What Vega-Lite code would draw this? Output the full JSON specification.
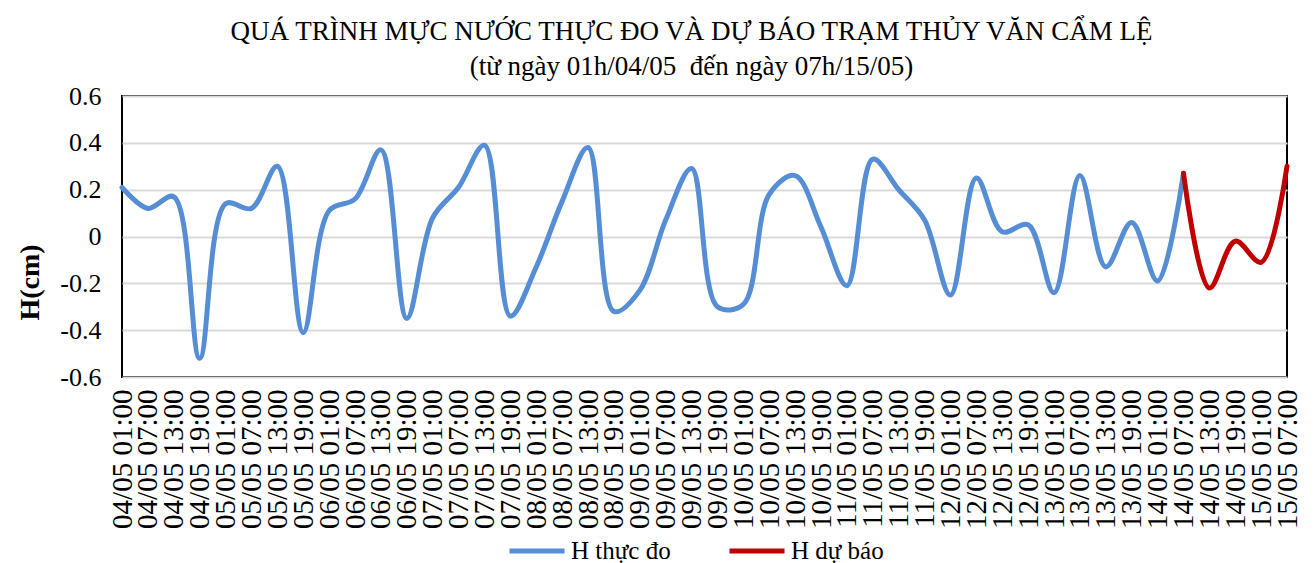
{
  "$schema": "https://vega.github.io/schema/vega-lite/v6.json",
  "width": 1165,
  "height": 281,
  "autosize": {"type": "none"},
  "padding": {"left": 122, "top": 96, "right": 28, "bottom": 186},
  "background": "white",
  "title": {
    "text": "QUÁ TRÌNH MỰC NƯỚC THỰC ĐO VÀ DỰ BÁO TRẠM THỦY VĂN CẨM LỆ",
    "subtitle": "(từ ngày 01h/04/05\u00a0 đến ngày 07h/15/05)",
    "font": "Liberation Serif",
    "subtitleFont": "Liberation Serif",
    "fontSize": 27,
    "subtitleFontSize": 27,
    "fontWeight": "normal",
    "color": "black",
    "subtitleColor": "black",
    "anchor": "middle",
    "dx": -13,
    "offset": 2,
    "subtitlePadding": 8
  },
  "data": {
    "values": [
      {"t": "04/05 01:00", "h": 0.21, "s": "H thực đo"},
      {"t": "04/05 07:00", "h": 0.12, "s": "H thực đo"},
      {"t": "04/05 13:00", "h": 0.17, "s": "H thực đo"},
      {"t": "04/05 19:00", "h": -0.52, "s": "H thực đo"},
      {"t": "05/05 01:00", "h": 0.14, "s": "H thực đo"},
      {"t": "05/05 07:00", "h": 0.12, "s": "H thực đo"},
      {"t": "05/05 13:00", "h": 0.30, "s": "H thực đo"},
      {"t": "05/05 19:00", "h": -0.41, "s": "H thực đo"},
      {"t": "06/05 01:00", "h": 0.11, "s": "H thực đo"},
      {"t": "06/05 07:00", "h": 0.16, "s": "H thực đo"},
      {"t": "06/05 13:00", "h": 0.37, "s": "H thực đo"},
      {"t": "06/05 19:00", "h": -0.35, "s": "H thực đo"},
      {"t": "07/05 01:00", "h": 0.08, "s": "H thực đo"},
      {"t": "07/05 07:00", "h": 0.21, "s": "H thực đo"},
      {"t": "07/05 13:00", "h": 0.39, "s": "H thực đo"},
      {"t": "07/05 19:00", "h": -0.34, "s": "H thực đo"},
      {"t": "08/05 01:00", "h": -0.13, "s": "H thực đo"},
      {"t": "08/05 07:00", "h": 0.15, "s": "H thực đo"},
      {"t": "08/05 13:00", "h": 0.38, "s": "H thực đo"},
      {"t": "08/05 19:00", "h": -0.32, "s": "H thực đo"},
      {"t": "09/05 01:00", "h": -0.23, "s": "H thực đo"},
      {"t": "09/05 07:00", "h": 0.07, "s": "H thực đo"},
      {"t": "09/05 13:00", "h": 0.29, "s": "H thực đo"},
      {"t": "09/05 19:00", "h": -0.30, "s": "H thực đo"},
      {"t": "10/05 01:00", "h": -0.29, "s": "H thực đo"},
      {"t": "10/05 07:00", "h": 0.18, "s": "H thực đo"},
      {"t": "10/05 13:00", "h": 0.26, "s": "H thực đo"},
      {"t": "10/05 19:00", "h": 0.04, "s": "H thực đo"},
      {"t": "11/05 01:00", "h": -0.21, "s": "H thực đo"},
      {"t": "11/05 07:00", "h": 0.33, "s": "H thực đo"},
      {"t": "11/05 13:00", "h": 0.20, "s": "H thực đo"},
      {"t": "11/05 19:00", "h": 0.07, "s": "H thực đo"},
      {"t": "12/05 01:00", "h": -0.25, "s": "H thực đo"},
      {"t": "12/05 07:00", "h": 0.25, "s": "H thực đo"},
      {"t": "12/05 13:00", "h": 0.02, "s": "H thực đo"},
      {"t": "12/05 19:00", "h": 0.05, "s": "H thực đo"},
      {"t": "13/05 01:00", "h": -0.24, "s": "H thực đo"},
      {"t": "13/05 07:00", "h": 0.26, "s": "H thực đo"},
      {"t": "13/05 13:00", "h": -0.13, "s": "H thực đo"},
      {"t": "13/05 19:00", "h": 0.06, "s": "H thực đo"},
      {"t": "14/05 01:00", "h": -0.19, "s": "H thực đo"},
      {"t": "14/05 07:00", "h": 0.27, "s": "H thực đo"},
      {"t": "14/05 07:00", "h": 0.27, "s": "H dự báo"},
      {"t": "14/05 13:00", "h": -0.22, "s": "H dự báo"},
      {"t": "14/05 19:00", "h": -0.02, "s": "H dự báo"},
      {"t": "15/05 01:00", "h": -0.11, "s": "H dự báo"},
      {"t": "15/05 07:00", "h": 0.30, "s": "H dự báo"}
    ]
  },
  "mark": {"type": "line", "interpolate": "catmull-rom", "strokeWidth": 5, "strokeCap": "round", "strokeJoin": "round"},
  "encoding": {
    "x": {
      "field": "t",
      "type": "ordinal",
      "sort": null,
      "scale": {"type": "point", "padding": 0},
      "axis": {
        "title": null,
        "labelAngle": 270,
        "labelAlign": "right",
        "labelBaseline": "middle",
        "labelFont": "Liberation Serif",
        "labelFontSize": 29,
        "labelColor": "black",
        "labelPadding": 12,
        "labelDy": 5,
        "labelOverlap": false,
        "ticks": false,
        "domain": false,
        "grid": false
      }
    },
    "y": {
      "field": "h",
      "type": "quantitative",
      "scale": {"domain": [-0.6, 0.6], "nice": false, "zero": false},
      "axis": {
        "values": [-0.6, -0.4, -0.2, 0, 0.2, 0.4, 0.6],
        "labelExpr": "datum.value == 0 ? '0' : (datum.value < 0 ? '-' + format(-datum.value, '.1f') : format(datum.value, '.1f'))",
        "labelFont": "Liberation Serif",
        "labelFontSize": 26,
        "labelColor": "black",
        "labelPadding": 21,
        "ticks": false,
        "domain": false,
        "grid": true,
        "gridColor": "#D9D9D9",
        "gridWidth": 2,
        "title": "H(cm)",
        "titleFont": "Liberation Serif",
        "titleFontSize": 28,
        "titleFontWeight": "bold",
        "titleColor": "black",
        "titleX": -92,
        "titleY": 186,
        "titleAlign": "center",
        "titleBaseline": "middle",
        "titleAngle": 270
      }
    },
    "color": {
      "field": "s",
      "type": "nominal",
      "scale": {"domain": ["H thực đo", "H dự báo"], "range": ["#558ED5", "#C00000"]},
      "legend": {
        "title": null,
        "orient": "none",
        "direction": "horizontal",
        "legendX": 385,
        "legendY": 425,
        "symbolType": "stroke",
        "symbolSize": 3025,
        "symbolStrokeWidth": 5,
        "labelFont": "Liberation Serif",
        "labelFontSize": 25,
        "labelColor": "black",
        "labelOffset": 4,
        "columnPadding": 48
      }
    }
  },
  "config": {
    "view": {"stroke": "black", "strokeWidth": 2}
  }
}
